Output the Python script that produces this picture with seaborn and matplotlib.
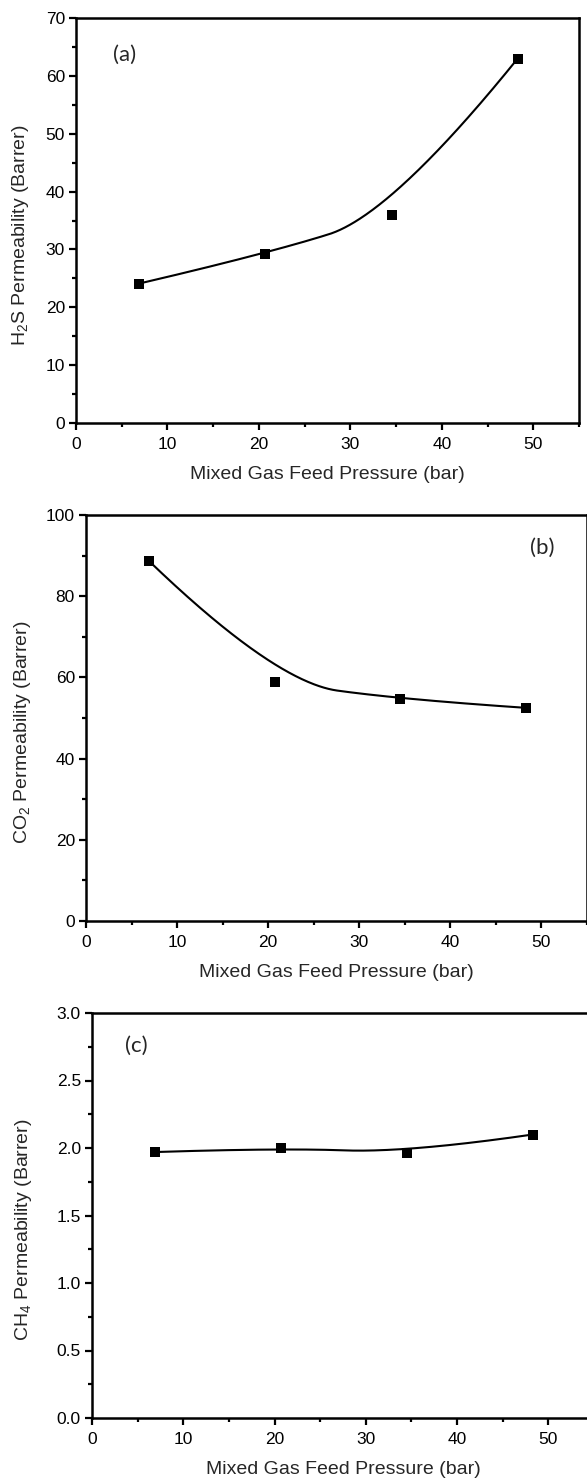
import numpy as np
import pandas as pd
import matplotlib
matplotlib.use("Agg")
import matplotlib.pyplot as plt
import seaborn as sns
from matplotlib.ticker import MultipleLocator, FormatStrFormatter

# ---- data ----
pressure = [6.9, 20.7, 34.5, 48.3]           # bar
h2s_perm = [24.1, 29.2, 36.0, 63.0]          # Barrer
co2_perm = [88.7, 58.9, 54.6, 52.5]          # Barrer
ch4_perm = [1.97, 2.00, 1.965, 2.10]         # Barrer

panel_labels = ["(a)", "(b)", "(c)"]
y_labels = ["H$_2$S Permeability (Barrer)",
            "CO$_2$ Permeability (Barrer)",
            "CH$_4$ Permeability (Barrer)"]
x_label = "Mixed Gas Feed Pressure (bar)"

sns.set_style("ticks")
plt.rcParams["font.family"] = ["Liberation Sans", "DejaVu Sans"]
plt.rcParams["mathtext.fontset"] = "custom"
plt.rcParams["mathtext.rm"] = "Liberation Sans"
plt.rcParams["mathtext.it"] = "Liberation Sans"


def bspline_curve(x, y, degree=2, n=300):
    """Clamped B-spline using the data points as control points."""
    P = np.column_stack([np.asarray(x, float), np.asarray(y, float)])
    m = len(P)
    inner = np.linspace(0, 1, m - degree + 1)[1:-1]
    knots = np.concatenate([np.zeros(degree + 1), inner, np.ones(degree + 1)])
    ts = np.linspace(0, 1, n)
    ts[-1] = 1 - 1e-12

    def basis(i, k, t):
        if k == 0:
            return np.where((knots[i] <= t) & (t < knots[i + 1]), 1.0, 0.0)
        a = 0.0
        b = 0.0
        d1 = knots[i + k] - knots[i]
        d2 = knots[i + k + 1] - knots[i + 1]
        if d1 > 0:
            a = (t - knots[i]) / d1 * basis(i, k - 1, t)
        if d2 > 0:
            b = (knots[i + k + 1] - t) / d2 * basis(i + 1, k - 1, t)
        return a + b

    B = np.column_stack([basis(i, degree, ts) for i in range(m)])
    C = B @ P
    return C[:, 0], C[:, 1]


fig = plt.figure(figsize=(5.87, 14.79), dpi=100)
positions = [
    [76 / 587, 1 - 423 / 1479, 503 / 587, 405 / 1479],
    [86 / 587, 1 - 921 / 1479, 501 / 587, 406 / 1479],
    [92 / 587, 1 - 1418 / 1479, 502 / 587, 405 / 1479],
]
series = [h2s_perm, co2_perm, ch4_perm]
ylims = [(0, 70), (0, 100), (0, 3.0)]
ymaj = [10, 20, 0.5]
ymin = [5, 10, 0.25]
label_pos = [(0.073, 0.91, "left"), (0.935, 0.92, "right"), (0.066, 0.92, "left")]
ylabel_x = [-0.089, -0.105, -0.116]

for i in range(3):
    ax = fig.add_axes(positions[i])
    df = pd.DataFrame({"p": pressure, "v": series[i]})
    cx, cy = bspline_curve(pressure, series[i])
    sns.lineplot(x=cx, y=cy, ax=ax, color="black", linewidth=1.5, zorder=2,
                 sort=False, estimator=None)
    sns.scatterplot(data=df, x="p", y="v", ax=ax, marker="s", s=60,
                    color="black", edgecolor="black", linewidth=0, zorder=3)
    ax.set_xlim(0, 55)
    ax.set_ylim(*ylims[i])
    ax.xaxis.set_major_locator(MultipleLocator(10))
    ax.xaxis.set_minor_locator(MultipleLocator(5))
    ax.yaxis.set_major_locator(MultipleLocator(ymaj[i]))
    ax.yaxis.set_minor_locator(MultipleLocator(ymin[i]))
    ax.tick_params(which="major", direction="out", length=5, width=1.6,
                   labelsize=12.5, color="black", labelcolor="black", pad=3)
    ax.tick_params(axis="x", which="major", pad=5)
    ax.tick_params(which="minor", direction="out", length=3.2, width=1.6, color="black")
    ax.tick_params(top=False, right=False, which="both")
    for sp in ax.spines.values():
        sp.set_visible(True)
        sp.set_linewidth(1.8)
        sp.set_color("black")
    if i == 2:
        ax.yaxis.set_major_formatter(FormatStrFormatter("%.1f"))
    ax.set_xlabel(x_label, fontsize=14, labelpad=10)
    ax.set_ylabel(y_labels[i], fontsize=14)
    ax.yaxis.set_label_coords(ylabel_x[i], 0.464)
    lx, ly, ha = label_pos[i]
    ax.text(lx, ly, panel_labels[i], transform=ax.transAxes, fontsize=16,
            family=["Lato", "DejaVu Sans"], ha=ha, va="center")

fig.savefig("out.png", dpi=100, facecolor="white")
